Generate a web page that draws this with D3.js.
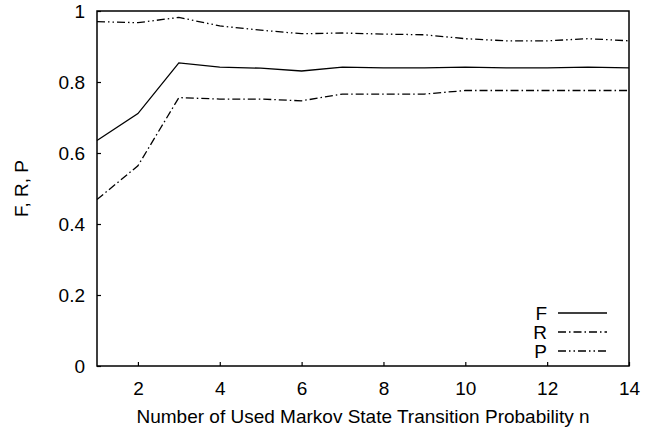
<!DOCTYPE html>
<html><head><meta charset="utf-8">
<script src="https://cdn.jsdelivr.net/npm/d3@7"></script>
<style>body{margin:0;background:#fff}svg{display:block}text{font-family:"Liberation Sans",Arial,sans-serif}</style>
</head><body>
<svg id="c" width="657" height="429"></svg>
<script>
const nValues = [1,2,3,4,5,6,7,8,9,10,11,12,13,14];
const fValues = [0.635,0.711,0.854,0.842,0.839,0.831,0.842,0.840,0.840,0.842,0.840,0.840,0.842,0.840];
const rValues = [0.469,0.564,0.756,0.752,0.752,0.747,0.766,0.766,0.766,0.776,0.776,0.776,0.776,0.776];
const pValues = [0.970,0.967,0.982,0.958,0.946,0.936,0.938,0.935,0.933,0.922,0.916,0.916,0.922,0.916];
const xTicks = [2,4,6,8,10,12,14];
const yTicks = [0,0.2,0.4,0.6,0.8,1];
const seriesNames = ["F","R","P"];

const svg = d3.select("#c");
const L=97,R=629,T=11,B=366;
const x = d3.scaleLinear().domain([1,14]).range([L,R]);
const y = d3.scaleLinear().domain([0,1]).range([B,T]);
const fs = 19;

svg.append("rect").attr("x",L).attr("y",T).attr("width",R-L).attr("height",B-T)
  .attr("fill","none").attr("stroke","#000").attr("stroke-width",1.5);

const xa = svg.append("g").attr("transform",`translate(0,${B})`)
  .call(d3.axisBottom(x).tickValues(xTicks).tickSize(-4).tickPadding(12).tickFormat(d3.format("d")));
const ya = svg.append("g").attr("transform",`translate(${L},0)`)
  .call(d3.axisLeft(y).tickValues(yTicks).tickSize(-4).tickPadding(12).tickFormat(d=>String(d)));
[xa,ya].forEach(a=>{
  a.select(".domain").remove();
  a.selectAll(".tick line").attr("stroke","#000").attr("stroke-width",1.2);
  a.selectAll("text").attr("font-size",fs).attr("fill","#000").style("font-family","'Liberation Sans',Arial,sans-serif");
});
xa.selectAll("text").attr("dy",null).attr("y",null).attr("transform",null);
xa.selectAll(".tick text").attr("y",29);

svg.append("text").attr("x",(L+R)/2).attr("y",423).attr("text-anchor","middle")
  .attr("font-size",fs).text("Number of Used Markov State Transition Probability n");
svg.append("text").attr("transform",`translate(28,${(T+B)/2}) rotate(-90)`).attr("text-anchor","middle")
  .attr("font-size",fs).text("F, R, P");

const dashes = [null,"8,3,1.5,3","8,3,1.5,3,1.5,3"];
const data = [fValues,rValues,pValues];
const line = d3.line().x((d,i)=>x(nValues[i])).y(d=>y(d));
data.forEach((vals,k)=>{
  svg.append("path").attr("d",line(vals)).attr("fill","none").attr("stroke","#000")
    .attr("stroke-width",1.3).attr("stroke-dasharray",dashes[k]);
});

const legY=[313,332,351];
seriesNames.forEach((s,k)=>{
  svg.append("text").attr("x",547).attr("y",legY[k]+7).attr("text-anchor","end").attr("font-size",fs).text(s);
  svg.append("line").attr("x1",558).attr("x2",607).attr("y1",legY[k]).attr("y2",legY[k])
    .attr("stroke","#000").attr("stroke-width",1.3).attr("stroke-dasharray",dashes[k]);
});
</script>
</body></html>
